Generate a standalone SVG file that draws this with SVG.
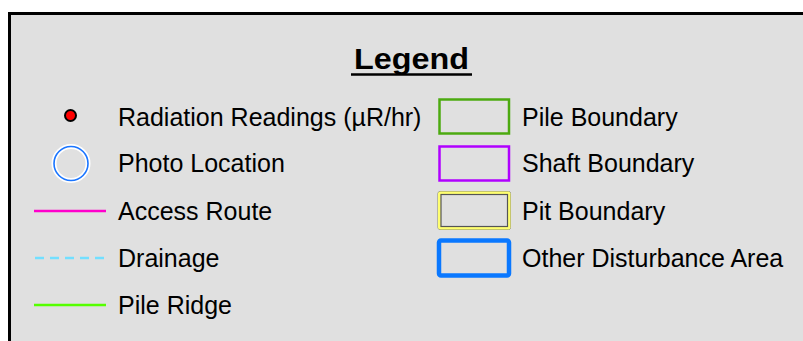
<svg xmlns="http://www.w3.org/2000/svg" width="803" height="341" viewBox="0 0 803 341">
  <style>
    .lbl { font-family: "Liberation Sans", Arial, sans-serif; font-size: 25px; fill: #000; }
    .title { font-family: "Liberation Sans", Arial, sans-serif; font-size: 29px; font-weight: bold; fill: #000; }
    .line { fill: none; stroke-width: 2.5; }
  </style>
  <rect x="0" y="0" width="803" height="341" fill="#ffffff"/>
  <!-- legend panel, running off the right and bottom edges -->
  <rect id="panel" x="9.5" y="13.5" width="820" height="360" fill="#e0e0e0" stroke="#000" stroke-width="3"/>

  <g id="title">
    <text class="title" x="354" y="69" textLength="115" lengthAdjust="spacingAndGlyphs">Legend</text>
    <line x1="351" y1="74.5" x2="472" y2="74.5" stroke="#000" stroke-width="2.5"/>
  </g>

  <g id="radiation">
    <circle cx="70.5" cy="115.5" r="5.5" fill="#ff0000" stroke="#000" stroke-width="2"/>
    <text class="lbl" x="118" y="126">Radiation Readings (µR/hr)</text>
  </g>
  <g id="photo">
    <circle cx="71" cy="163.5" r="17" fill="none" stroke="#ffffff" stroke-width="5"/>
    <circle cx="71" cy="163.5" r="17" fill="none" stroke="#1a75ff" stroke-width="1.6"/>
    <text class="lbl" x="118" y="172">Photo Location</text>
  </g>
  <g id="access">
    <line class="line" x1="34" y1="211" x2="106" y2="211" stroke="#ff00cc"/>
    <text class="lbl" x="118" y="220">Access Route</text>
  </g>
  <g id="drainage">
    <line class="line" x1="35" y1="258" x2="105" y2="258" stroke="#73dfff" stroke-dasharray="9 6"/>
    <text class="lbl" x="118" y="267">Drainage</text>
  </g>
  <g id="ridge">
    <line class="line" x1="34" y1="305" x2="106" y2="305" stroke="#55ff00"/>
    <text class="lbl" x="118" y="314">Pile Ridge</text>
  </g>

  <g id="pile">
    <rect x="439.5" y="99.5" width="69.5" height="34" fill="none" stroke="#4caa10" stroke-width="2.5"/>
    <text class="lbl" x="522" y="126">Pile Boundary</text>
  </g>
  <g id="shaft">
    <rect x="439.5" y="146.5" width="69.5" height="34" fill="none" stroke="#b000ff" stroke-width="2.5"/>
    <text class="lbl" x="522" y="172">Shaft Boundary</text>
  </g>
  <g id="pit">
    <rect x="438" y="191.5" width="72.5" height="38" rx="2" fill="none" stroke="#8a8a6a" stroke-width="1"/>
    <rect x="439.5" y="193" width="69.5" height="35" rx="1" fill="none" stroke="#ffff70" stroke-width="3"/>
    <rect x="441" y="194.5" width="66.5" height="32" fill="none" stroke="#555555" stroke-width="1.2"/>
    <text class="lbl" x="522" y="220">Pit Boundary</text>
  </g>
  <g id="other">
    <rect x="439" y="240.5" width="70" height="35" rx="2" fill="none" stroke="#0a78ff" stroke-width="4.5"/>
    <text class="lbl" x="522" y="267">Other Disturbance Area</text>
  </g>
</svg>
